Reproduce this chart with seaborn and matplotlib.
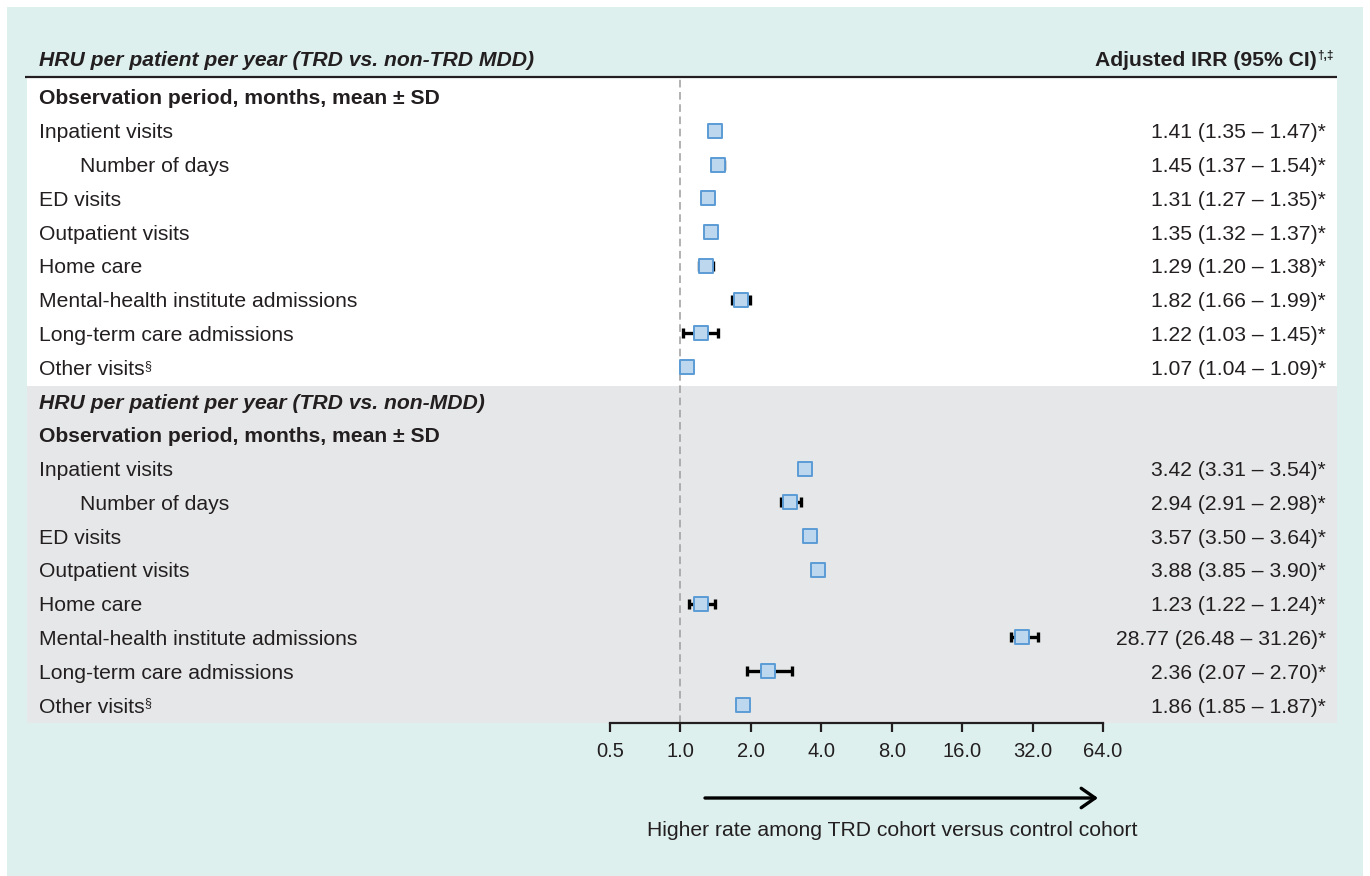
#forest plot of adjusted IRRs, TRD vs control cohorts
import pandas as pd
import seaborn as sns
import matplotlib.pyplot as plt
from matplotlib.patches import Rectangle

plt.rcParams['font.family'] = ['Liberation Sans', 'DejaVu Sans']

#data
labels = ['Inpatient visits', 'Number of days', 'ED visits', 'Outpatient visits', 'Home care',
          'Mental-health institute admissions', 'Long-term care admissions', 'Other visits']
indented = [False, True, False, False, False, False, False, False]

irr_mdd = [1.41, 1.45, 1.31, 1.35, 1.29, 1.82, 1.22, 1.07]
lo_mdd = [1.35, 1.37, 1.27, 1.32, 1.20, 1.66, 1.03, 1.04]
hi_mdd = [1.47, 1.54, 1.35, 1.37, 1.38, 1.99, 1.45, 1.09]

irr_non = [3.42, 2.94, 3.57, 3.88, 1.23, 28.77, 2.36, 1.86]
lo_non = [3.31, 2.91, 3.50, 3.85, 1.22, 26.48, 2.07, 1.85]
hi_non = [3.54, 2.98, 3.64, 3.90, 1.24, 31.26, 2.70, 1.87]

# CI whiskers as they are drawn in the figure (wider than printed for some rows)
bar_lo_non = [3.25, 2.68, 3.50, 3.85, 1.09, 25.8, 1.93, 1.85]
bar_hi_non = [3.54, 3.29, 3.64, 3.90, 1.40, 33.8, 2.99, 1.87]

tick_vals = [0.5, 1, 2, 4, 8, 16, 32, 64]
tick_labels = ['0.5', '1.0', '2.0', '4.0', '8.0', '16.0', '32.0', '64.0']

header1 = 'HRU per patient per year (TRD vs. non-TRD MDD)'
header2 = 'HRU per patient per year (TRD vs. non-MDD)'
obs_label = 'Observation period, months, mean \u00b1 SD'

# rows: 0 obs, 1-8 non-TRD MDD, 9 header, 10 obs, 11-18 non-MDD
rows_mdd = list(range(1, 9))
rows_non = list(range(11, 19))

df = pd.DataFrame({
    'irr': irr_mdd + irr_non,
    'lo': lo_mdd + bar_lo_non,
    'hi': hi_mdd + bar_hi_non,
    'row': rows_mdd + rows_non,
})

txt = '#231f20'
fs = 15.2
W, H = 1370, 876
row0, step = 97, 33.78

def ypix(r):
    # text sits a touch lower than the row centre
    return row0 + r * step + 2

fig = plt.figure(figsize=(13.7, 8.76), dpi=100)
fig.patch.set_facecolor('white')
bg = fig.add_axes([0, 0, 1, 1])
bg.set_xlim(0, W)
bg.set_ylim(H, 0)
bg.axis('off')

bg.add_patch(Rectangle((7, 7), 1356, 869, fc='#ddf0ee', ec='none'))
bg.add_patch(Rectangle((27, 78), 1310, 308, fc='white', ec='none'))
bg.add_patch(Rectangle((27, 386), 1310, 337, fc='#e6e7e8', ec='none'))
bg.plot([25, 1337], [77, 77], color=txt, lw=1.6, solid_capstyle='butt')

# headers
bg.text(39, 60, header1, fontsize=fs, fontweight='bold', fontstyle='italic', color=txt, va='center')
t = bg.text(1317, 60, 'Adjusted IRR (95% CI)', fontsize=fs, fontweight='bold', color=txt,
            va='center', ha='right')
bg.annotate('\u2020,\u2021', xy=(1, 1), xycoords=t, xytext=(0, 0.5), textcoords='offset points',
            fontsize=8.5, fontweight='bold', color=txt, va='top', ha='left')

bg.text(39, ypix(0), obs_label, fontsize=fs, fontweight='bold', color=txt, va='center')
bg.text(39, ypix(9), header2, fontsize=fs, fontweight='bold', fontstyle='italic', color=txt, va='center')
bg.text(39, ypix(10), obs_label, fontsize=fs, fontweight='bold', color=txt, va='center')

for rows, irr, lo, hi in [(rows_mdd, irr_mdd, lo_mdd, hi_mdd), (rows_non, irr_non, lo_non, hi_non)]:
    for r, lab, ind, v, l, h in zip(rows, labels, indented, irr, lo, hi):
        lt = bg.text(80 if ind else 39, ypix(r), lab, fontsize=fs, color=txt, va='center')
        if lab == 'Other visits':
            bg.annotate('\u00a7', xy=(1, 1), xycoords=lt, xytext=(-0.5, 0), textcoords='offset points',
                        fontsize=9, color=txt, va='top', ha='left')
        bg.text(1326, ypix(r), f'{v:.2f} ({l:.2f} \u2013 {h:.2f})*', fontsize=fs, color=txt,
                va='center', ha='right')

# forest panel
top, bot = 78, 723
ax = fig.add_axes([610 / W, (H - bot) / H, 493 / W, (bot - top) / H])
ax.patch.set_alpha(0)
ax.set_xscale('log', base=2)
ax.set_xlim(0.5, 64)
ax.set_ylim((bot - row0) / step, (top - row0) / step)

ax.axvline(1, color='#9d9d9d', lw=1.1, ls=(0, (5, 3)), zorder=1)
ax.errorbar(df['irr'], df['row'], xerr=[df['irr'] - df['lo'], df['hi'] - df['irr']],
            fmt='none', ecolor='black', elinewidth=2.4, capsize=3.6, capthick=2.4, zorder=2)
sns.scatterplot(data=df, x='irr', y='row', marker='s', s=105, color='#bdd7ee',
                edgecolor='#5b9bd5', linewidth=1.4, ax=ax, zorder=3, legend=False)

for s in ['top', 'left', 'right']:
    ax.spines[s].set_visible(False)
ax.spines['bottom'].set_linewidth(1.6)
ax.spines['bottom'].set_color(txt)
ax.set_yticks([])
ax.set_xticks(tick_vals)
ax.set_xticklabels(tick_labels)
ax.minorticks_off()
ax.tick_params(axis='x', direction='out', length=6.5, width=1.6, color=txt, pad=7,
               labelsize=14.5, labelcolor=txt)
ax.set_xlabel('')
ax.set_ylabel('')

# direction arrow and caption
bg.annotate('', xy=(1098, 798), xytext=(705, 798),
            arrowprops=dict(arrowstyle='->,head_length=0.5,head_width=0.35', lw=2.4,
                            color='black', mutation_scale=20, shrinkA=0, shrinkB=0))
bg.text(892, 830, 'Higher rate among TRD cohort versus control cohort', fontsize=fs,
        color=txt, ha='center', va='center')

fig.savefig('out.png', dpi=100)
plt.close()
